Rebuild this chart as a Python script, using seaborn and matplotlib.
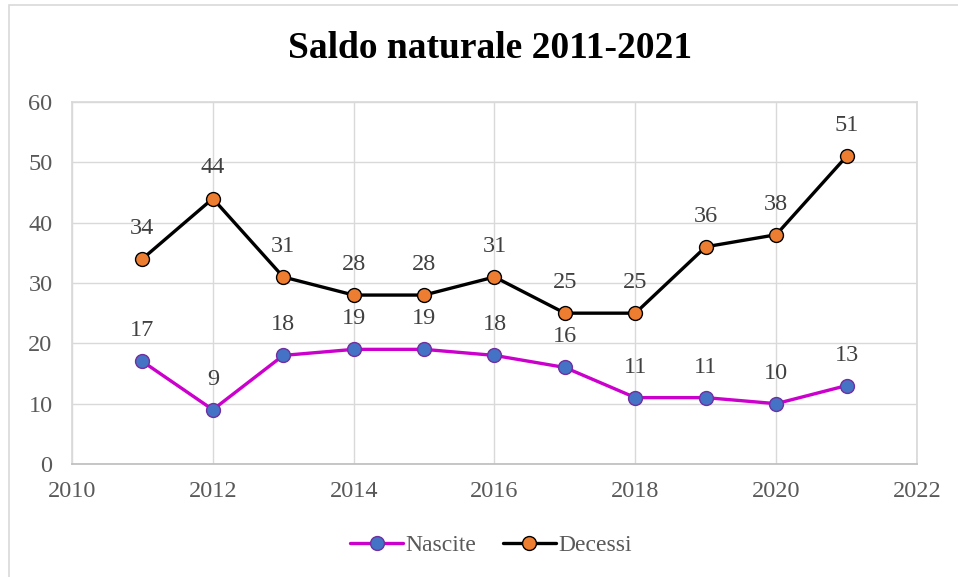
import pandas as pd
import numpy as np
import matplotlib.pyplot as plt
import seaborn as sns
from matplotlib.patches import Rectangle

years = [2011, 2012, 2013, 2014, 2015, 2016, 2017, 2018, 2019, 2020, 2021]
nascite = [17, 9, 18, 19, 19, 18, 16, 11, 11, 10, 13]
decessi = [34, 44, 31, 28, 28, 31, 25, 25, 36, 38, 51]
series_names = ["Nascite", "Decessi"]
title = "Saldo naturale 2011-2021"

df = pd.DataFrame({"anno": years * 2,
                   "valore": nascite + decessi,
                   "serie": [series_names[0]] * len(years) + [series_names[1]] * len(years)})

sns.set_theme(style="white")
plt.rcParams['font.family'] = ['Liberation Serif', 'DejaVu Serif']

fig = plt.figure(figsize=(9.58, 5.77), dpi=100)
ax = fig.add_axes([72 / 958, 1 - 464 / 577, (917 - 72) / 958, (464 - 102) / 577])

line_colors = {"Nascite": "#CC00CC", "Decessi": "#000000"}
face_colors = {"Nascite": "#4472C4", "Decessi": "#ED7D31"}
edge_colors = {"Nascite": "#7030A0", "Decessi": "#000000"}

for name in series_names:
    sub = df[df["serie"] == name]
    sns.lineplot(data=sub, x="anno", y="valore", ax=ax, color=line_colors[name],
                 linewidth=2.4, marker="o", markersize=10,
                 markerfacecolor=face_colors[name], markeredgecolor=edge_colors[name],
                 markeredgewidth=1.0, label=name)
    for x, y in zip(sub["anno"], sub["valore"]):
        ax.annotate(str(y), (x, y), xytext=(0, 22), textcoords="offset points",
                    ha="center", va="center", fontsize=17.5, color="#404040")

ax.set_xlim(2010, 2022)
ax.set_ylim(0, 60)
ax.set_xticks(range(2010, 2023, 2))
ax.set_yticks(range(0, 61, 10))
ax.grid(True, color="#D9D9D9", linewidth=1.0)
ax.set_axisbelow(True)
for s in ax.spines.values():
    s.set_color("#D9D9D9")
ax.spines["bottom"].set_color("#BFBFBF")
ax.set_xlabel("")
ax.set_ylabel("")
ax.tick_params(axis="both", labelsize=17.5, colors="#595959", length=0)
ax.tick_params(axis="y", pad=14)
ax.tick_params(axis="x", pad=12)

ax.legend_.remove()
handles, labels = ax.get_legend_handles_labels()
fig.legend(handles, labels, loc="center", bbox_to_anchor=(491 / 958, 1 - 545 / 577),
           ncol=2, frameon=False, fontsize=17, handlelength=2.25, handletextpad=0.1,
           columnspacing=1.1, labelcolor="#595959")

fig.text(490 / 958, 1 - 48 / 577, title, ha="center", va="center",
         fontsize=27, fontweight="bold", color="#000000")

fig.patches.append(Rectangle((9 / 958, -0.05), 1.2, 1 - 5 / 577 + 0.05,
                             transform=fig.transFigure, fill=False,
                             edgecolor="#D9D9D9", linewidth=1.2))

fig.savefig("out.png", dpi=100)
